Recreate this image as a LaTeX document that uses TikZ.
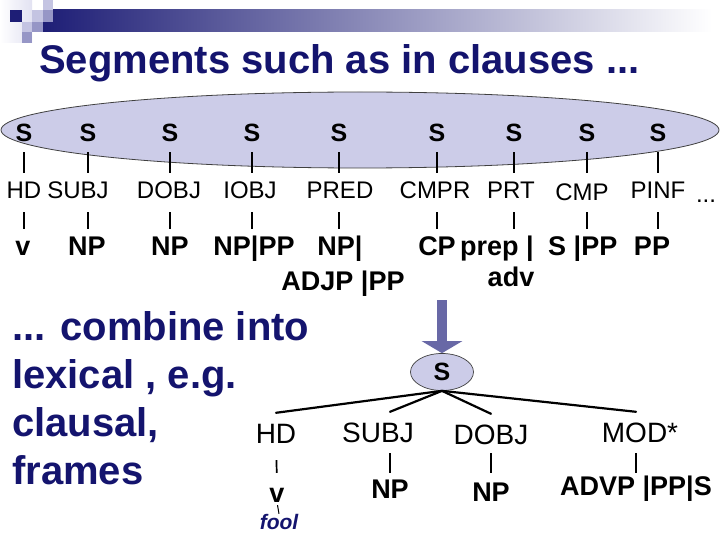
\documentclass[tikz,border=0pt]{standalone}
\usepackage{fontspec}
\setmainfont{Liberation Sans}
\usepackage{tikz}
\usetikzlibrary{arrows.meta,positioning,shapes.geometric}
\definecolor{navy}{RGB}{20,20,110}
\definecolor{barnavy}{RGB}{30,30,118}
\definecolor{lav}{RGB}{204,204,232}
\definecolor{sqpale}{RGB}{226,226,242}
\definecolor{sqlight}{RGB}{196,196,226}
\definecolor{sqmid}{RGB}{150,150,198}
\definecolor{slate}{RGB}{104,104,166}

\begin{document}
\begin{tikzpicture}[x=1pt, y=-1pt,
  seg/.style={font=\bfseries\fontsize{25}{29}\selectfont, inner sep=0pt, anchor=base, text height=18pt, text depth=0pt},
  role/.style={font=\fontsize{24}{28}\selectfont, inner sep=0pt, anchor=base, text height=17pt, text depth=0pt},
  cat/.style={font=\bfseries\fontsize{27}{31}\selectfont, inner sep=0pt, anchor=base, text height=19pt, text depth=0pt},
  frole/.style={font=\fontsize{28}{32}\selectfont, inner sep=0pt, anchor=base, text height=20pt, text depth=0pt},
  fcat/.style={font=\bfseries\fontsize{27}{31}\selectfont, inner sep=0pt, anchor=base, text height=19pt, text depth=0pt},
  stem/.style={line width=2.6pt},
  upstem/.style={stem, shorten <=10pt, shorten >=9pt},
  downstem/.style={stem, shorten <=13pt, shorten >=7pt},
  branch/.style={line width=2.2pt, line cap=round},
  bigarrow/.style={line width=10pt, draw=slate, -{Triangle[width=40pt,length=12pt]}},
  clauses/.style={ellipse, draw=black!75, line width=0.8pt, fill=lav, minimum width=718pt, minimum height=76pt}
]
\useasboundingbox (0,0) rectangle (720,540);
\fill[white] (0,0) rectangle (720,540);

% header
\shade[left color=white, right color=sqpale] (0,0) rectangle (32,43);
\shade[left color=barnavy, right color=white] (43,10) rectangle (712,32);
\fill[barnavy] (10,10) rectangle (22,22);
\fill[sqlight] (43,0) rectangle (53,10);
\fill[sqlight] (32,10) rectangle (43,22);
\fill[sqmid] (43,10) rectangle (53,22);
\fill[sqlight] (22,22) rectangle (32,32);
\fill[sqmid] (32,22) rectangle (43,32);
\fill[sqmid] (22,32) rectangle (32,43);
\node[anchor=base west, inner sep=0pt, text=navy, font=\bfseries\fontsize{40}{48}\selectfont] (title) at (39,74) {Segments such as in clauses ...};

% segments
\node[clauses] (segs) at (360,130) {};
\node[seg] (s1) at (24,142) {S};
\node[seg] (s2) at (88,142) {S};
\node[seg] (s3) at (170,142) {S};
\node[seg] (s4) at (252,142) {S};
\node[seg] (s5) at (339,142) {S};
\node[seg] (s6) at (437,142) {S};
\node[seg] (s7) at (514,142) {S};
\node[seg] (s8) at (587,142) {S};
\node[seg] (s9) at (658,142) {S};

\node[role] (r1) at (24,199) {HD};
\node[role] (r2) at (78,199) {SUBJ};
\node[role] (r3) at (169,199) {DOBJ};
\node[role] (r4) at (250,199) {IOBJ};
\node[role] (r5) at (340,199) {PRED};
\node[role] (r6) at (435,199) {CMPR};
\node[role] (r7) at (511,199) {PRT};
\node[role] (r8) at (582,201) {CMP};
\node[role] (r9) at (658,199) {PINF};
\node[role] (more) at (706,203) {...};

\node[cat] (c1) at (23,255) {v};
\node[cat] (c2) at (87,255) {NP};
\node[cat] (c3) at (170,255) {NP};
\node[cat] (c4) at (254,255) {NP|PP};
\node[cat] (c5) at (340,255) {NP|};
\node[cat] (c5b) at (343,290) {ADJP |PP};
\node[cat] (c6) at (437,255) {CP};
\node[cat, anchor=base west] (c7) at (460,255) {prep |};
\node[cat] (c7b) at (511,286) {adv};
\node[cat, anchor=base west] (c8) at (548,255) {S |PP};
\node[cat] (c9) at (652,255) {PP};

\draw[upstem] (s1.south) -- (s1.south |- r1.north);
\draw[upstem] (s2.south) -- (s2.south |- r2.north);
\draw[upstem] (s3.south) -- (s3.south |- r3.north);
\draw[upstem] (s4.south) -- (s4.south |- r4.north);
\draw[upstem] (s5.south) -- (s5.south |- r5.north);
\draw[upstem] (s6.south) -- (s6.south |- r6.north);
\draw[upstem] (s7.south) -- (s7.south |- r7.north);
\draw[upstem] (s8.south) -- (s8.south |- r7.north);
\draw[upstem] (s9.south) -- (s9.south |- r9.north);

\draw[downstem] (s1.south |- r1.south) -- (s1.south |- c1.north);
\draw[downstem] (s2.south |- r2.south) -- (s2.south |- c2.north);
\draw[downstem] (s3.south |- r3.south) -- (s3.south |- c3.north);
\draw[downstem] (s4.south |- r4.south) -- (s4.south |- c4.north);
\draw[downstem] (s5.south |- r5.south) -- (s5.south |- c5.north);
\draw[downstem] (s6.south |- r6.south) -- (s6.south |- c6.north);
\draw[downstem] (s7.south |- r7.south) -- (s7.south |- c7.north);
\draw[downstem] (s8.south |- r7.south) -- (s8.south |- c8.north);
\draw[downstem] (s9.south |- r9.south) -- (s9.south |- c9.north);

% frame
\node[anchor=north west, align=left, inner sep=0pt, text=navy, font=\bfseries\fontsize{40}{48}\selectfont] (combine) at (12,311) {... combine into\\lexical , e.g.\\clausal,\\frames};

\coordinate (arrtail) at (442,300);
\node[ellipse, draw=black!75, line width=0.7pt, fill=lav, minimum width=63pt, minimum height=37pt, inner sep=0pt, font=\bfseries\fontsize{25}{29}\selectfont] (frame) at (442,372) {S};
\draw[bigarrow] (arrtail) -- (frame.north);

\node[frole] (hd) at (276,443) {HD};
\node[frole] (subj) at (378,442) {SUBJ};
\node[frole] (dobj) at (491,444) {DOBJ};
\node[frole] (mod) at (640,442) {MOD*};

\node[fcat] (v) at (277,502) {v};
\node[fcat] (np2) at (390,498) {NP};
\node[fcat] (np3) at (491,501) {NP};
\node[fcat] (advp) at (636,495) {ADVP |PP|S};
\node[inner sep=0pt, anchor=base, text height=15pt, text depth=0pt, text=navy, font=\bfseries\itshape\fontsize{21}{24}\selectfont] (fool) at (279,529) {fool};

\draw[branch] (frame.south) -- ([yshift=10pt]hd.north);
\draw[branch] (frame.south) -- ([yshift=10pt]np2.north |- subj.north);
\draw[branch] (frame.south) -- ([yshift=10pt]dobj.north);
\draw[branch] (frame.south) -- ([yshift=10pt]advp.north |- mod.north);

\draw[line width=1.7pt, shorten <=17pt, shorten >=10pt] (hd.south) -- (v.north);
\draw[line width=2.2pt, shorten <=11pt, shorten >=6pt] (np2 |- subj.south) -- (np2.north);
\draw[line width=2.2pt, shorten <=9pt, shorten >=9pt] (dobj.south) -- (np3.north);
\draw[line width=2pt, shorten <=11pt, shorten >=3pt] (advp |- mod.south) -- (advp.north);
\draw[line width=1pt, shorten <=3pt] (v.south) -- (fool.north);
\end{tikzpicture}
\end{document}
